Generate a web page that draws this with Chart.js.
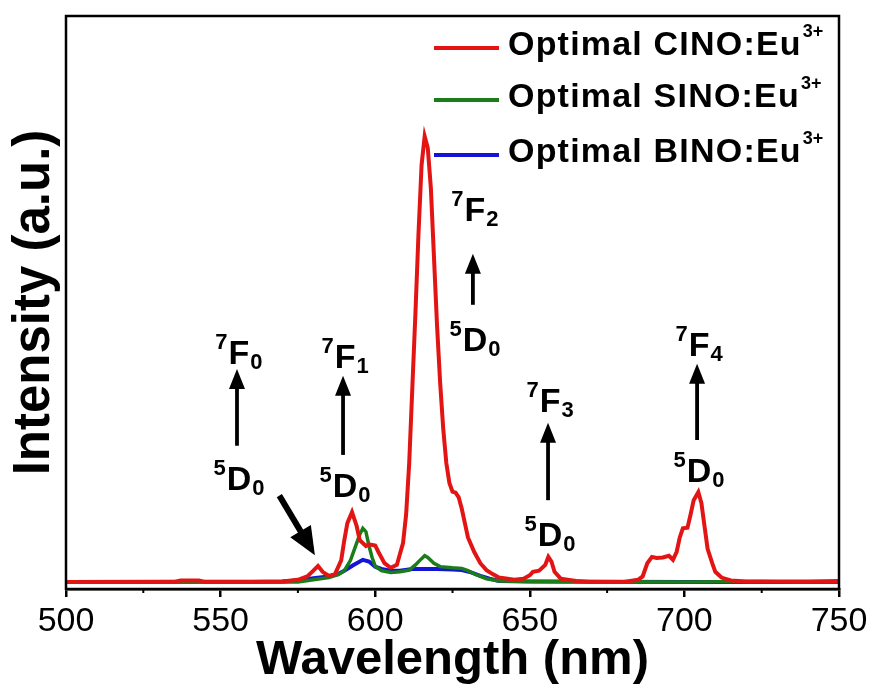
<!DOCTYPE html>
<html>
<head>
<meta charset="utf-8">
<script src="https://cdn.jsdelivr.net/npm/chart.js@4.4.1/dist/chart.umd.min.js"></script>
<style>
  html, body { margin: 0; padding: 0; background: #fff; }
  #wrap { width: 873px; height: 691px; }
</style>
</head>
<body>
<div id="wrap"><canvas id="c" width="873" height="691"></canvas></div>
<script>
// ---------- data ----------
const seriesNames = ['Optimal CINO:Eu', 'Optimal SINO:Eu', 'Optimal BINO:Eu'];
const xTicks = [500, 550, 600, 650, 700, 750];

const wlCINO = [500, 520, 535, 537, 543, 545, 560, 570, 575, 578, 580, 581.5, 583, 585, 587, 589, 590, 591, 592.5, 594, 595, 597, 598, 600, 601, 603, 605, 607, 609, 610, 611, 612, 613, 614, 615, 616, 617, 618, 619, 620, 621, 622, 623, 624, 625, 626, 627, 628, 629, 630, 632, 634, 636, 638, 640, 645, 648, 650, 651, 653, 655, 656, 657, 658, 660, 665, 670, 680, 685, 686.5, 688, 689.5, 691, 693, 695, 696.3, 697.5, 698.5, 699.5, 701, 702, 703, 704.5, 705.5, 706.5, 707.5, 709, 710, 712, 715, 720, 740, 750];
const valCINO = [1.2, 1.2, 1.2, 1.5, 1.5, 1.2, 1.2, 1.3, 1.6, 2.2, 3.2, 4.0, 3.0, 2.3, 2.6, 5.0, 8.5, 11.5, 13.4, 11.0, 8.5, 7.5, 7.8, 7.6, 6.5, 4.5, 3.7, 4.2, 8.0, 13.0, 22.0, 35.0, 48.0, 62.0, 74.0, 79.0, 77.0, 70.0, 58.0, 46.0, 36.0, 28.0, 22.0, 18.5, 17.0, 16.8, 16.0, 14.0, 11.5, 9.0, 6.5, 4.5, 3.3, 2.6, 2.0, 1.6, 1.8, 2.4, 3.0, 3.2, 4.2, 5.6, 4.8, 3.0, 1.8, 1.4, 1.2, 1.2, 1.6, 2.2, 4.5, 5.6, 5.4, 5.5, 5.8, 5.1, 6.5, 9.0, 10.6, 10.7, 13.0, 15.5, 16.9, 15.0, 11.0, 7.0, 4.5, 3.0, 2.0, 1.5, 1.3, 1.3, 1.4];

const wlSINO = [500, 575, 580, 585, 588, 590, 592, 594, 595, 596, 597, 598, 599, 600, 602, 605, 608, 611, 613, 615, 616, 617, 619, 621, 625, 628, 630, 633, 636, 640, 650, 700, 725, 735, 750];
const valSINO = [1.2, 1.2, 1.6, 2.0, 2.5, 3.2, 5.0, 8.0, 9.5, 10.6, 10.0, 7.5, 5.5, 4.0, 3.2, 2.9, 3.0, 3.3, 4.2, 5.3, 5.8, 5.5, 4.5, 3.9, 3.7, 3.6, 3.2, 2.4, 1.8, 1.4, 1.3, 1.2, 1.3, 1.2, 1.2];

const wlBINO = [500, 570, 575, 580, 585, 588, 590, 593, 596, 598, 600, 602, 605, 608, 612, 616, 620, 625, 628, 631, 634, 637, 640, 650, 700, 750];
const valBINO = [1.2, 1.3, 1.5, 1.9, 2.2, 2.6, 3.2, 4.2, 5.1, 4.8, 3.9, 3.5, 3.2, 3.2, 3.5, 3.5, 3.5, 3.4, 3.3, 2.9, 2.3, 1.8, 1.4, 1.3, 1.2, 1.2];

// transition labels: arrow wavelength, arrow from/to intensity, upper/lower label baseline intensity
const transitions = [
  { wl: 555.3, from: 25.0, to: 38.4, upper: ['7', 'F', '0'], upperAt: 39.3, lower: ['5', 'D', '0'], lowerAt: 17.2 },
  { wl: 589.6, from: 23.4, to: 37.2, upper: ['7', 'F', '1'], upperAt: 38.6, lower: ['5', 'D', '0'], lowerAt: 16.0 },
  { wl: 631.6, from: 49.6, to: 58.5, upper: ['7', 'F', '2'], upperAt: 64.3, lower: ['5', 'D', '0'], lowerAt: 41.6 },
  { wl: 655.9, from: 15.5, to: 29.0, upper: ['7', 'F', '3'], upperAt: 30.9, lower: ['5', 'D', '0'], lowerAt: 7.5 },
  { wl: 704.1, from: 26.0, to: 39.3, upper: ['7', 'F', '4'], upperAt: 40.7, lower: ['5', 'D', '0'], lowerAt: 18.7 }
];
// diagonal pointer from the first 5D0 label to the 581 nm peak
const pointer = { fromWl: 569.0, fromVal: 16.3, toWl: 580.5, toVal: 5.9 };

// ---------- styles ----------
const colors = ['#e31414', '#1a7d1a', '#1414d6'];
const FAM = '"Liberation Sans", Arial, Helvetica, sans-serif';

function toPts(xs, ys) { return xs.map((x, i) => ({ x: x, y: ys[i] })); }

function drawTerm(ctx, cx, by, parts) {
  const fM = 'bold 34px ' + FAM;
  const fS = 'bold 22px ' + FAM;
  ctx.font = fS;
  const wSup = ctx.measureText(parts[0]).width;
  const wSub = ctx.measureText(parts[2]).width;
  ctx.font = fM;
  const wM = ctx.measureText(parts[1]).width;
  const total = wSup + 1 + wM + 1 + wSub;
  const x0 = cx - total / 2 + 2;
  ctx.textAlign = 'left';
  ctx.textBaseline = 'alphabetic';
  ctx.fillStyle = '#000';
  ctx.font = fS; ctx.fillText(parts[0], x0, by - 15);
  ctx.font = fM; ctx.fillText(parts[1], x0 + wSup + 1, by);
  ctx.font = fS; ctx.fillText(parts[2], x0 + wSup + 1 + wM + 1, by + 5);
}

function drawArrow(ctx, x1, y1, x2, y2, shaftW, headL, headW) {
  const dx = x2 - x1, dy = y2 - y1;
  const len = Math.hypot(dx, dy);
  const ux = dx / len, uy = dy / len;
  const bx = x2 - ux * headL, by = y2 - uy * headL;
  ctx.strokeStyle = '#000';
  ctx.fillStyle = '#000';
  ctx.lineWidth = shaftW;
  ctx.lineCap = 'butt';
  ctx.beginPath(); ctx.moveTo(x1, y1); ctx.lineTo(bx + ux * 2, by + uy * 2); ctx.stroke();
  ctx.beginPath();
  ctx.moveTo(x2, y2);
  ctx.lineTo(bx - uy * headW / 2, by + ux * headW / 2);
  ctx.lineTo(bx + uy * headW / 2, by - ux * headW / 2);
  ctx.closePath(); ctx.fill();
}

const decorations = {
  id: 'decorations',
  afterDraw(chart) {
    const { ctx, chartArea: a, scales: { x, y } } = chart;
    ctx.save();
    // frame
    ctx.strokeStyle = '#000';
    ctx.lineWidth = 2.5;
    ctx.strokeRect(a.left, a.top, a.right - a.left, a.bottom - a.top);
    // minor ticks on the bottom axis
    ctx.lineWidth = 2;
    for (let v = xTicks[0] + 25; v < xTicks[xTicks.length - 1]; v += 50) {
      const px = x.getPixelForValue(v);
      ctx.beginPath(); ctx.moveTo(px, a.bottom); ctx.lineTo(px, a.bottom + 4); ctx.stroke();
    }
    // transitions
    transitions.forEach(t => {
      const px = x.getPixelForValue(t.wl);
      drawArrow(ctx, px, y.getPixelForValue(t.from), px, y.getPixelForValue(t.to), 3.8, 20, 16);
      drawTerm(ctx, px, y.getPixelForValue(t.upperAt), t.upper);
      drawTerm(ctx, px, y.getPixelForValue(t.lowerAt), t.lower);
    });
    drawArrow(ctx, x.getPixelForValue(pointer.fromWl), y.getPixelForValue(pointer.fromVal),
      x.getPixelForValue(pointer.toWl), y.getPixelForValue(pointer.toVal), 6, 28, 24);
    // legend
    const rows = [48, 100, 155];
    seriesNames.forEach((name, i) => {
      const ly = a.top + rows[i] - 16;
      ctx.strokeStyle = colors[i];
      ctx.lineWidth = 4;
      ctx.beginPath(); ctx.moveTo(a.right - 405, ly); ctx.lineTo(a.right - 340, ly); ctx.stroke();
      ctx.fillStyle = '#000';
      ctx.textAlign = 'left';
      ctx.textBaseline = 'alphabetic';
      ctx.font = 'bold 34px ' + FAM;
      ctx.letterSpacing = '1.2px';
      const tx = a.right - 331;
      ctx.fillText(name, tx, ly + 7);
      const w = ctx.measureText(name).width;
      ctx.letterSpacing = '0px';
      ctx.font = 'bold 18px ' + FAM;
      ctx.fillText('3+', tx + w + 1, ly - 11);
    });
    ctx.restore();
  }
};

new Chart(document.getElementById('c'), {
  type: 'line',
  data: {
    datasets: [
      { label: seriesNames[0], data: toPts(wlCINO, valCINO), borderColor: colors[0], borderWidth: 4, pointRadius: 0, tension: 0 },
      { label: seriesNames[1], data: toPts(wlSINO, valSINO), borderColor: colors[1], borderWidth: 3.5, pointRadius: 0, tension: 0 },
      { label: seriesNames[2], data: toPts(wlBINO, valBINO), borderColor: colors[2], borderWidth: 4, pointRadius: 0, tension: 0 }
    ]
  },
  options: {
    responsive: false,
    animation: false,
    layout: { padding: { top: 16, right: 34, left: 0, bottom: 0 } },
    plugins: { legend: { display: false }, tooltip: { enabled: false } },
    scales: {
      x: {
        type: 'linear',
        min: 500, max: 750,
        afterFit: s => { s.height = 102; },
        afterBuildTicks: s => { s.ticks = xTicks.map(v => ({ value: v })); },
        ticks: { color: '#000', font: { family: FAM, size: 34 }, padding: 4, maxRotation: 0 },
        grid: { drawOnChartArea: false, drawTicks: true, tickLength: 8, color: '#000', lineWidth: 2.5 },
        border: { display: true, color: '#000', width: 2.5 },
        title: { display: true, text: 'Wavelength (nm)', color: '#000', font: { family: FAM, size: 49, weight: 'bold' }, padding: { top: 0, bottom: 1 } }
      },
      y: {
        min: 0, max: 100,
        afterFit: s => { s.width = 66; },
        ticks: { display: false },
        grid: { display: false },
        border: { display: false },
        title: { display: true, text: 'Intensity (a.u.)', color: '#000', font: { family: FAM, size: 51, weight: 'bold' }, padding: { top: 4, bottom: 0 } }
      }
    }
  },
  plugins: [decorations]
});
</script>
</body>
</html>
